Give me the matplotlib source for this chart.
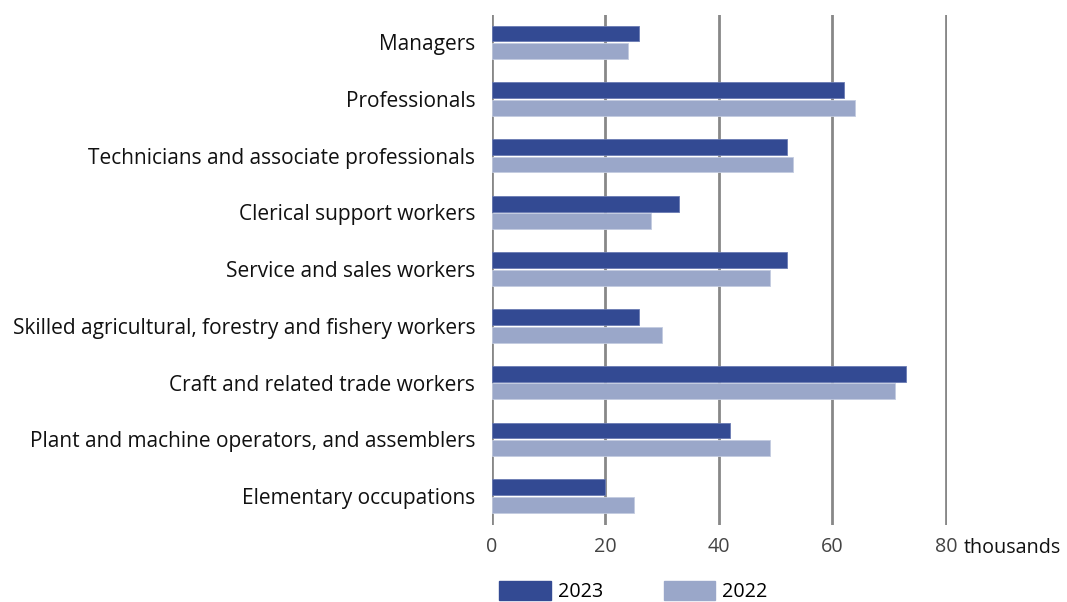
import numpy as np
import matplotlib.pyplot as plt
from matplotlib.patches import Patch

plt.rcParams['font.family'] = ['Open Sans', 'DejaVu Sans']

# 職業別の人数（千人）
categories = ['Managers',
              'Professionals',
              'Technicians and associate professionals',
              'Clerical support workers',
              'Service and sales workers',
              'Skilled agricultural, forestry and fishery workers',
              'Craft and related trade workers',
              'Plant and machine operators, and assemblers',
              'Elementary occupations']
values_2023 = [26, 62, 52, 33, 52, 26, 73, 42, 20]
values_2022 = [24, 64, 53, 28, 49, 30, 71, 49, 25]
x_ticks = [0, 20, 40, 60, 80]

c_2023 = '#334a93'
c_2022 = '#9aa7c9'
fs = 14.2

fig = plt.figure(figsize=(10.67, 6.02), dpi=100)
ax = fig.add_axes([0.461, 0.128, 0.427, 0.847])

y = np.arange(len(categories))
h = 0.28
ax.barh(y - 0.155, values_2023, height=h, color=c_2023, edgecolor='#6a7bb3', linewidth=0.6, zorder=3)
ax.barh(y + 0.155, values_2022, height=h, color=c_2022, edgecolor='#c3cbe0', linewidth=0.6, zorder=3)

ax.set_xlim(0, 80.3)
ax.set_ylim(8.51, -0.48)
ax.set_xticks(x_ticks)
ax.set_yticks(y)
ax.set_yticklabels(categories, fontsize=15, color='#111111')
ax.tick_params(axis='x', labelsize=fs, labelcolor='#444444', length=0, pad=9)
ax.tick_params(axis='y', length=0, pad=12)
for lbl in ax.get_yticklabels():
    lbl.set_y(lbl.get_position()[1])
ax.grid(axis='x', color='#888888', linewidth=2, zorder=0)
for s in ax.spines.values():
    s.set_visible(False)

ax.annotate('thousands', xy=(80, 0), xycoords=('data', 'axes fraction'),
            xytext=(18, -13), textcoords='offset pixels',
            ha='left', va='top', fontsize=fs, color='#111111')

handles = [Patch(color=c_2023, label='2023'), Patch(color=c_2022, label='2022')]
fig.legend(handles=handles, ncol=2, loc='center left', bbox_to_anchor=(0.468, 0.017),
           frameon=False, fontsize=fs, handlelength=2.6, handleheight=1.1,
           handletextpad=0.35, columnspacing=3.1, borderaxespad=0, borderpad=0)

plt.savefig('out.png', dpi=100)
